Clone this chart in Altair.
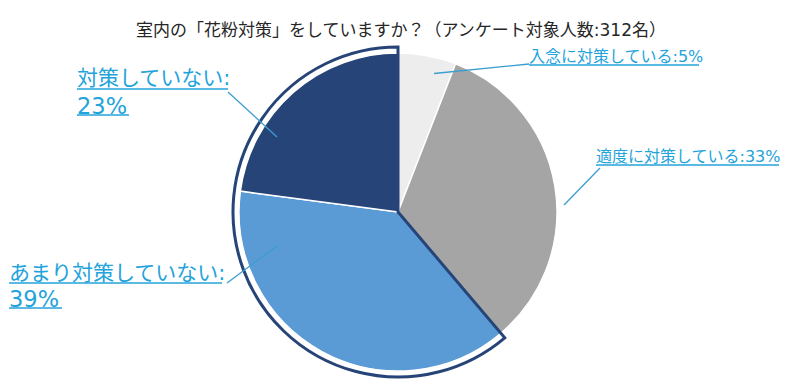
import altair as alt
import pandas as pd

# ---- data ----
categories = ["入念に対策している", "適度に対策している", "あまり対策していない", "対策していない"]
shares = [5.9, 32.9, 38.3, 22.9]          # slice sizes as drawn
label_pcts = ["5%", "33%", "39%", "23%"]  # printed labels
colors = ["#EDEDED", "#A5A5A5", "#5B9BD5", "#264478"]
title_text = "室内の「花粉対策」をしていますか？（アンケート対象人数:312名）"

# ---- layout / style constants ----
FONT = "DejaVu Sans, Noto Sans CJK JP"
LABEL_COLOR = "#23A3DB"
LEADER_COLOR = "#3C9DD0"
NAVY = "#264478"
CX, CY, R = 390, 204, 159

pie_df = pd.DataFrame({
    "category": categories,
    "value": shares,
    "idx": list(range(len(categories))),
})

label_rows = [
    (categories[0] + ":" + label_pcts[0], 521, 49, 16),
    (categories[1] + ":" + label_pcts[1], 588, 149, 16),
    (categories[3] + ":", 69, 71, 21),
    (label_pcts[3], 69, 99, 22.5),
    (categories[2] + ":", 1, 266, 21),
    (label_pcts[2], 1, 292, 22.5),
]
labels_df = pd.DataFrame(label_rows, columns=["text", "x", "y", "size"])

underline_df = pd.DataFrame(
    [(521, 691, 57), (588, 771, 157), (69, 220, 81), (69, 121, 107), (1, 214, 275), (1, 54, 300)],
    columns=["x1", "x2", "y"],
)
leader_df = pd.DataFrame(
    [(426, 65.5, 521, 56), (556, 197, 592, 160), (220, 84, 269, 129), (219, 275, 269, 238)],
    columns=["x1", "y1", "x2", "y2"],
)

pie = alt.Chart(pie_df).mark_arc(outerRadius=R, stroke="white", strokeWidth=1.5).encode(
    theta=alt.Theta("value:Q", stack=True),
    color=alt.Color("category:N", scale=alt.Scale(domain=categories, range=colors), legend=None),
    order=alt.Order("idx:Q"),
    x=alt.value(CX),
    y=alt.value(CY),
)

outline = alt.Chart(pie_df).transform_calculate(
    hl="datum.idx >= 2 ? 1 : 0"
).transform_aggregate(
    total="sum(value)", groupby=["hl"]
).mark_arc(
    outerRadius=165, fill="white", fillOpacity=0, stroke=NAVY, strokeWidth=3, strokeJoin="miter"
).encode(
    theta=alt.Theta("total:Q", stack=True),
    order=alt.Order("hl:Q"),
    strokeOpacity=alt.condition("datum.hl == 1", alt.value(1), alt.value(0)),
    x=alt.value(CX),
    y=alt.value(CY),
)

leaders = alt.Chart(leader_df).mark_rule(color=LEADER_COLOR, strokeWidth=1.3).encode(
    x=alt.X("x1:Q", scale=None),
    y=alt.Y("y1:Q", scale=None),
    x2="x2:Q",
    y2="y2:Q",
)

underlines = alt.Chart(underline_df).mark_rule(color=LABEL_COLOR, strokeWidth=1.3).encode(
    x=alt.X("x1:Q", scale=None),
    x2="x2:Q",
    y=alt.Y("y:Q", scale=None),
)

labels = alt.Chart(labels_df).mark_text(
    align="left", baseline="middle", font=FONT, color=LABEL_COLOR
).encode(
    x=alt.X("x:Q", scale=None),
    y=alt.Y("y:Q", scale=None),
    text="text:N",
    size=alt.Size("size:Q", scale=None, legend=None),
)

title = alt.Chart(pd.DataFrame({"t": [title_text]})).mark_text(
    align="center", baseline="middle", font=FONT, fontSize=17, color="#262626"
).encode(
    x=alt.value(393),
    y=alt.value(23),
    text="t:N",
)

chart = alt.layer(pie, outline, leaders, underlines, labels, title).resolve_scale(
    theta="independent"
).properties(
    width=784, height=371, padding=0, autosize="none"
).configure_view(stroke=None)

chart.save("out.html", embed_options={"renderer": "svg", "actions": False})
